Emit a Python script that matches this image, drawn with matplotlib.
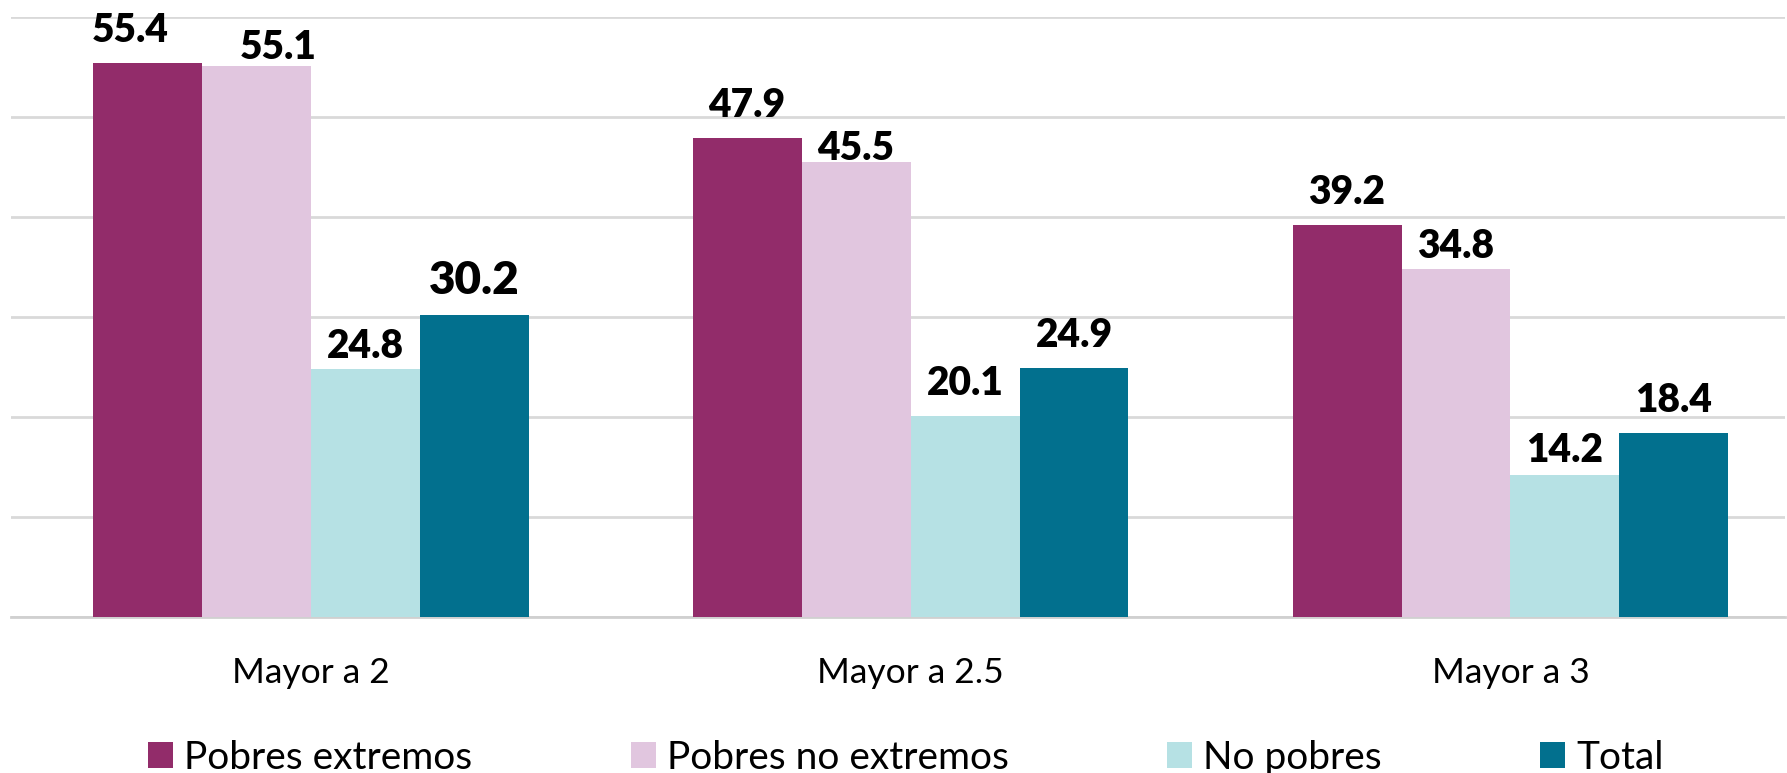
import matplotlib
matplotlib.use('Agg')
import matplotlib.pyplot as plt
from matplotlib.patches import Patch
import numpy as np

plt.rcParams['font.family'] = ['Lato', 'DejaVu Sans']

categories = ['Mayor a 2', 'Mayor a 2.5', 'Mayor a 3']
series = ['Pobres extremos', 'Pobres no extremos', 'No pobres', 'Total']
pobres_extremos = [55.4, 47.9, 39.2]
pobres_no_extremos = [55.1, 45.5, 34.8]
no_pobres = [24.8, 20.1, 14.2]
total = [30.2, 24.9, 18.4]
values = [pobres_extremos, pobres_no_extremos, no_pobres, total]
colors = ['#922C6A', '#E1C6DF', '#B6E1E4', '#02708E']

# manual label nudges in pixels (dx, dy), per series / category
nudges = {
    (0, 0): (-17, 0),
    (1, 0): (22, -14),
    (1, 1): (0, -19),
    (2, 0): (0, -10),
    (1, 2): (0, -10),
    (2, 2): (0, -8),
}

fig = plt.figure(figsize=(17.87, 7.73), dpi=100)
ax = fig.add_axes([0.006, 0.2018, 0.993, 0.978 - 0.2018])

w = 0.1816
x = np.arange(len(categories))
for i, (name, vals, c) in enumerate(zip(series, values, colors)):
    xs = x + (i - 1.5) * w
    ax.bar(xs, vals, width=w, color=c, zorder=3, label=name)
    for j, (xx, v) in enumerate(zip(xs, vals)):
        dx, dy = nudges.get((i, j), (0, 0))
        size = 33 if (i == 3 and j == 0) else 28
        ax.annotate(f'{v:.1f}', (xx, v), xytext=(dx, 14 + dy),
                    textcoords='offset pixels', ha='center', va='bottom',
                    fontsize=size, fontweight='heavy', color='black')

ax.set_ylim(0, 60)
ax.set_xlim(-0.5, 2.458)
ax.set_yticks(np.arange(0, 61, 10))
ax.yaxis.grid(True, color='#D9D9D9', linewidth=2, zorder=0)
ax.tick_params(axis='y', left=False, labelleft=False)
ax.tick_params(axis='x', length=0, pad=29, labelsize=25.5)
ax.set_xticks(x)
ax.set_xticklabels(categories)
for s in ['top', 'right', 'left']:
    ax.spines[s].set_visible(False)
ax.spines['bottom'].set_color('#D0D0D0')
ax.spines['bottom'].set_linewidth(2)

handles = [Patch(facecolor=c, label=n) for n, c in zip(series, colors)]
fig.legend(handles=handles, loc='center', bbox_to_anchor=(0.507, 15 / 773),
           ncol=4, frameon=False, fontsize=28, handlelength=0.64,
           handleheight=0.64, handletextpad=0.29, columnspacing=4.07)

fig.savefig('out.png', dpi=100)
